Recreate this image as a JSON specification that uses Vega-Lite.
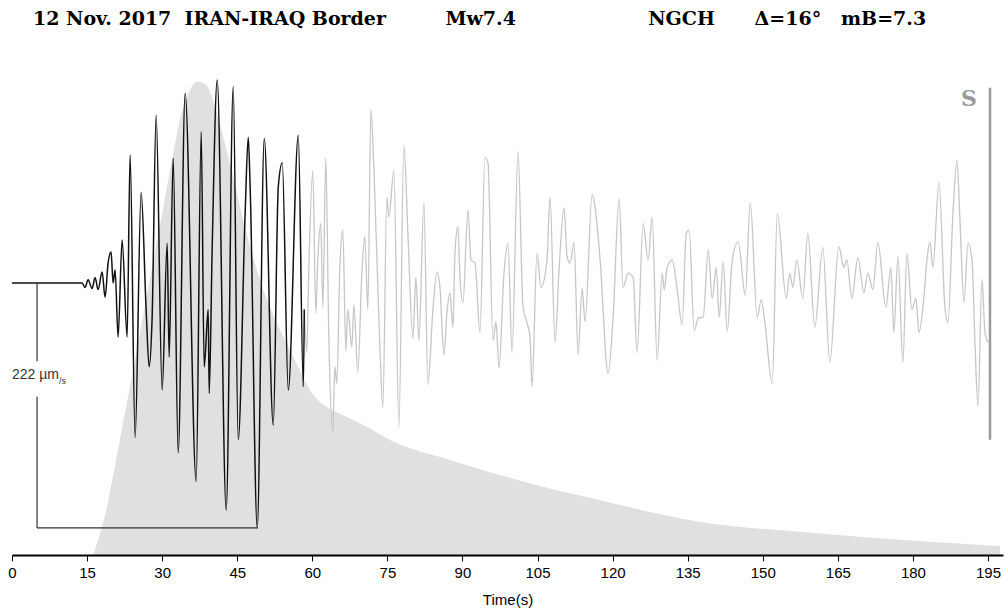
{
  "$schema": "https://vega.github.io/schema/vega-lite/v6.json",
  "width": 991,
  "height": 495,
  "autosize": {"type": "none"},
  "padding": {"left": 12, "top": 60, "right": 1, "bottom": 55},
  "background": "white",
  "config": {"view": {"stroke": null}},
  "title": {
    "text": "12 Nov. 2017\u00a0\u00a0IRAN-IRAQ Border\u00a0\u00a0\u00a0\u00a0\u00a0\u00a0\u00a0\u00a0\u00a0Mw7.4\u00a0\u00a0\u00a0\u00a0\u00a0\u00a0\u00a0\u00a0\u00a0\u00a0\u00a0\u00a0\u00a0\u00a0\u00a0\u00a0\u00a0\u00a0\u00a0\u00a0NGCH\u00a0\u00a0\u00a0\u00a0\u00a0\u00a0Δ=16°\u00a0\u00a0\u00a0mB=7.3",
    "anchor": "start",
    "frame": "group",
    "dx": 21,
    "offset": 16,
    "baseline": "alphabetic",
    "font": "DejaVu Serif",
    "fontSize": 19,
    "fontWeight": "bold",
    "color": "#000000"
  },
  "datasets": {
    "stf": [
      {"time": 16.2, "a": 0}, {"time": 17.2, "a": 0.032}, {"time": 18.6, "a": 0.085}, {"time": 20.6, "a": 0.19},
      {"time": 22.6, "a": 0.302}, {"time": 24.6, "a": 0.412}, {"time": 26.6, "a": 0.529}, {"time": 28.6, "a": 0.641},
      {"time": 30.6, "a": 0.757}, {"time": 32.0, "a": 0.837}, {"time": 33.6, "a": 0.922}, {"time": 35.2, "a": 0.974},
      {"time": 37.0, "a": 1.0}, {"time": 38.6, "a": 0.996}, {"time": 40.2, "a": 0.962}, {"time": 41.6, "a": 0.909},
      {"time": 43.6, "a": 0.825}, {"time": 46.6, "a": 0.691}, {"time": 50.0, "a": 0.567}, {"time": 53.1, "a": 0.486},
      {"time": 56.5, "a": 0.412}, {"time": 57.5, "a": 0.391}, {"time": 59.5, "a": 0.349}, {"time": 62.9, "a": 0.313},
      {"time": 66.1, "a": 0.296}, {"time": 70.9, "a": 0.271}, {"time": 75.5, "a": 0.243}, {"time": 87.5, "a": 0.201},
      {"time": 99.5, "a": 0.163}, {"time": 117.5, "a": 0.116}, {"time": 137.5, "a": 0.07}, {"time": 157.4, "a": 0.049},
      {"time": 177.4, "a": 0.032}, {"time": 197.4, "a": 0.019}
    ],
    "trace": [
      {"time": 0, "amp": 0, "part": "early"}, {"time": 14.0, "amp": 0, "part": "early"}, {"time": 14.6, "amp": -4, "part": "early"},
      {"time": 15.2, "amp": 3, "part": "early"}, {"time": 16.0, "amp": -5, "part": "early"}, {"time": 16.6, "amp": 5, "part": "early"},
      {"time": 17.2, "amp": -6, "part": "early"}, {"time": 18.0, "amp": 10, "part": "early"}, {"time": 18.6, "amp": -13, "part": "early"},
      {"time": 19.2, "amp": 18, "part": "early"}, {"time": 19.8, "amp": 28, "part": "early"}, {"time": 20.2, "amp": 0, "part": "early"},
      {"time": 20.6, "amp": 12, "part": "early"}, {"time": 21.2, "amp": -49, "part": "early"}, {"time": 22.0, "amp": 39, "part": "early"},
      {"time": 23.0, "amp": -49, "part": "early"}, {"time": 23.6, "amp": 116, "part": "early"}, {"time": 24.6, "amp": -140, "part": "early"},
      {"time": 25.8, "amp": 82, "part": "early"}, {"time": 26.8, "amp": -24, "part": "early"}, {"time": 27.4, "amp": -76, "part": "early"},
      {"time": 28.0, "amp": -31, "part": "early"}, {"time": 28.8, "amp": 152, "part": "early"}, {"time": 30.0, "amp": -97, "part": "early"},
      {"time": 31.0, "amp": 36, "part": "early"}, {"time": 31.4, "amp": -67, "part": "early"}, {"time": 32.2, "amp": 113, "part": "early"},
      {"time": 33.2, "amp": -154, "part": "early"}, {"time": 34.6, "amp": 172, "part": "early"}, {"time": 36.8, "amp": -180, "part": "early"},
      {"time": 37.8, "amp": 137, "part": "early"}, {"time": 38.4, "amp": -76, "part": "early"}, {"time": 39.2, "amp": -24, "part": "early"},
      {"time": 39.4, "amp": -100, "part": "early"}, {"time": 40.0, "amp": 33, "part": "early"}, {"time": 41.0, "amp": 184, "part": "early"},
      {"time": 42.8, "amp": -206, "part": "early"}, {"time": 44.2, "amp": 178, "part": "early"}, {"time": 45.2, "amp": -142, "part": "early"},
      {"time": 46.6, "amp": 66, "part": "early"}, {"time": 47.2, "amp": 132, "part": "early"}, {"time": 47.6, "amp": 84, "part": "early"},
      {"time": 49.0, "amp": -222, "part": "early"}, {"time": 50.4, "amp": 131, "part": "early"}, {"time": 52.2, "amp": -129, "part": "early"},
      {"time": 53.2, "amp": 87, "part": "early"}, {"time": 54.0, "amp": 109, "part": "early"}, {"time": 55.2, "amp": -97, "part": "early"},
      {"time": 57.2, "amp": 134, "part": "early"}, {"time": 58.2, "amp": -94, "part": "early"}, {"time": 58.4, "amp": -24, "part": "early"},
      {"time": 58.4, "amp": -24, "part": "late"}, {"time": 58.9, "amp": -63, "part": "late"}, {"time": 59.3, "amp": 12, "part": "late"},
      {"time": 60.1, "amp": 102, "part": "late"}, {"time": 60.7, "amp": -27, "part": "late"}, {"time": 61.1, "amp": 21, "part": "late"},
      {"time": 61.7, "amp": 54, "part": "late"}, {"time": 62.1, "amp": -22, "part": "late"}, {"time": 62.7, "amp": 113, "part": "late"},
      {"time": 63.3, "amp": -49, "part": "late"}, {"time": 64.1, "amp": -135, "part": "late"}, {"time": 64.5, "amp": -76, "part": "late"},
      {"time": 64.9, "amp": -91, "part": "late"}, {"time": 65.5, "amp": 14, "part": "late"}, {"time": 66.1, "amp": 48, "part": "late"},
      {"time": 66.7, "amp": -61, "part": "late"}, {"time": 67.1, "amp": -24, "part": "late"}, {"time": 67.9, "amp": -58, "part": "late"},
      {"time": 68.3, "amp": -20, "part": "late"}, {"time": 69.1, "amp": -81, "part": "late"}, {"time": 69.9, "amp": 9, "part": "late"},
      {"time": 70.5, "amp": 42, "part": "late"}, {"time": 71.1, "amp": -24, "part": "late"}, {"time": 71.7, "amp": 157, "part": "late"},
      {"time": 72.3, "amp": 105, "part": "late"}, {"time": 73.5, "amp": -58, "part": "late"}, {"time": 74.1, "amp": -113, "part": "late"},
      {"time": 74.9, "amp": 78, "part": "late"}, {"time": 75.3, "amp": 60, "part": "late"}, {"time": 76.3, "amp": 102, "part": "late"},
      {"time": 77.3, "amp": -131, "part": "late"}, {"time": 78.3, "amp": 125, "part": "late"}, {"time": 79.1, "amp": 45, "part": "late"},
      {"time": 80.1, "amp": -50, "part": "late"}, {"time": 80.7, "amp": 5, "part": "late"}, {"time": 81.3, "amp": -52, "part": "late"},
      {"time": 82.3, "amp": 73, "part": "late"}, {"time": 83.1, "amp": -92, "part": "late"}, {"time": 84.1, "amp": -24, "part": "late"},
      {"time": 84.9, "amp": 10, "part": "late"}, {"time": 85.5, "amp": -4, "part": "late"}, {"time": 86.3, "amp": -65, "part": "late"},
      {"time": 86.9, "amp": -27, "part": "late"}, {"time": 87.5, "amp": -9, "part": "late"}, {"time": 88.1, "amp": -40, "part": "late"},
      {"time": 88.5, "amp": 27, "part": "late"}, {"time": 89.1, "amp": 51, "part": "late"}, {"time": 89.5, "amp": 5, "part": "late"},
      {"time": 90.1, "amp": -18, "part": "late"}, {"time": 91.1, "amp": 66, "part": "late"}, {"time": 91.7, "amp": 21, "part": "late"},
      {"time": 92.5, "amp": 18, "part": "late"}, {"time": 93.5, "amp": -45, "part": "late"}, {"time": 94.5, "amp": 114, "part": "late"},
      {"time": 95.1, "amp": 109, "part": "late"}, {"time": 96.1, "amp": -52, "part": "late"}, {"time": 96.7, "amp": -35, "part": "late"},
      {"time": 97.3, "amp": -77, "part": "late"}, {"time": 98.3, "amp": 9, "part": "late"}, {"time": 99.1, "amp": 36, "part": "late"},
      {"time": 99.9, "amp": -63, "part": "late"}, {"time": 101.1, "amp": 119, "part": "late"}, {"time": 102.1, "amp": -22, "part": "late"},
      {"time": 102.9, "amp": -36, "part": "late"}, {"time": 103.5, "amp": -49, "part": "late"}, {"time": 103.9, "amp": -94, "part": "late"},
      {"time": 104.9, "amp": 27, "part": "late"}, {"time": 105.7, "amp": -4, "part": "late"}, {"time": 106.9, "amp": 21, "part": "late"},
      {"time": 107.5, "amp": 78, "part": "late"}, {"time": 108.5, "amp": -54, "part": "late"}, {"time": 109.3, "amp": 12, "part": "late"},
      {"time": 110.3, "amp": 68, "part": "late"}, {"time": 110.9, "amp": 24, "part": "late"}, {"time": 111.5, "amp": 18, "part": "late"},
      {"time": 112.3, "amp": 37, "part": "late"}, {"time": 113.1, "amp": -65, "part": "late"}, {"time": 113.9, "amp": -5, "part": "late"},
      {"time": 114.5, "amp": -35, "part": "late"}, {"time": 115.9, "amp": 80, "part": "late"}, {"time": 116.5, "amp": 69, "part": "late"},
      {"time": 117.5, "amp": 21, "part": "late"}, {"time": 119.1, "amp": -82, "part": "late"}, {"time": 120.1, "amp": -31, "part": "late"},
      {"time": 121.3, "amp": 77, "part": "late"}, {"time": 122.1, "amp": -4, "part": "late"}, {"time": 123.1, "amp": 9, "part": "late"},
      {"time": 124.1, "amp": 5, "part": "late"}, {"time": 124.9, "amp": -63, "part": "late"}, {"time": 126.1, "amp": 54, "part": "late"},
      {"time": 127.1, "amp": 21, "part": "late"}, {"time": 127.9, "amp": 60, "part": "late"}, {"time": 128.9, "amp": -70, "part": "late"},
      {"time": 129.9, "amp": 9, "part": "late"}, {"time": 130.3, "amp": -6, "part": "late"}, {"time": 130.9, "amp": 14, "part": "late"},
      {"time": 131.9, "amp": 21, "part": "late"}, {"time": 132.9, "amp": -6, "part": "late"}, {"time": 133.9, "amp": -38, "part": "late"},
      {"time": 134.7, "amp": 45, "part": "late"}, {"time": 135.3, "amp": 48, "part": "late"}, {"time": 136.3, "amp": -43, "part": "late"},
      {"time": 137.1, "amp": -32, "part": "late"}, {"time": 138.1, "amp": -31, "part": "late"}, {"time": 139.1, "amp": 30, "part": "late"},
      {"time": 139.9, "amp": -14, "part": "late"}, {"time": 140.7, "amp": 14, "part": "late"}, {"time": 141.3, "amp": -31, "part": "late"},
      {"time": 142.1, "amp": 19, "part": "late"}, {"time": 142.9, "amp": -44, "part": "late"}, {"time": 143.9, "amp": 21, "part": "late"},
      {"time": 145.1, "amp": 37, "part": "late"}, {"time": 146.5, "amp": -11, "part": "late"}, {"time": 147.5, "amp": 73, "part": "late"},
      {"time": 148.9, "amp": -31, "part": "late"}, {"time": 149.7, "amp": -15, "part": "late"}, {"time": 150.3, "amp": -31, "part": "late"},
      {"time": 151.9, "amp": -91, "part": "late"}, {"time": 152.9, "amp": 63, "part": "late"}, {"time": 154.7, "amp": -14, "part": "late"},
      {"time": 155.4, "amp": 9, "part": "late"}, {"time": 156.0, "amp": -4, "part": "late"}, {"time": 156.8, "amp": 21, "part": "late"},
      {"time": 158.0, "amp": -14, "part": "late"}, {"time": 159.0, "amp": 45, "part": "late"}, {"time": 160.4, "amp": -40, "part": "late"},
      {"time": 162.0, "amp": 32, "part": "late"}, {"time": 163.4, "amp": -72, "part": "late"}, {"time": 165.2, "amp": 33, "part": "late"},
      {"time": 166.2, "amp": 14, "part": "late"}, {"time": 166.8, "amp": 21, "part": "late"}, {"time": 167.8, "amp": -14, "part": "late"},
      {"time": 169.0, "amp": 23, "part": "late"}, {"time": 170.2, "amp": -9, "part": "late"}, {"time": 171.0, "amp": 9, "part": "late"},
      {"time": 172.0, "amp": -6, "part": "late"}, {"time": 173.0, "amp": 37, "part": "late"}, {"time": 174.6, "amp": -22, "part": "late"},
      {"time": 175.6, "amp": 14, "part": "late"}, {"time": 176.2, "amp": -45, "part": "late"}, {"time": 177.0, "amp": 24, "part": "late"},
      {"time": 178.0, "amp": -72, "part": "late"}, {"time": 178.8, "amp": 27, "part": "late"}, {"time": 179.8, "amp": -24, "part": "late"},
      {"time": 180.6, "amp": -14, "part": "late"}, {"time": 181.2, "amp": -45, "part": "late"}, {"time": 182.2, "amp": -13, "part": "late"},
      {"time": 182.8, "amp": 21, "part": "late"}, {"time": 183.4, "amp": 37, "part": "late"}, {"time": 184.0, "amp": 14, "part": "late"},
      {"time": 185.2, "amp": 91, "part": "late"}, {"time": 186.4, "amp": -22, "part": "late"}, {"time": 187.0, "amp": -36, "part": "late"},
      {"time": 188.0, "amp": 63, "part": "late"}, {"time": 188.8, "amp": 111, "part": "late"}, {"time": 189.4, "amp": 57, "part": "late"},
      {"time": 190.2, "amp": -18, "part": "late"}, {"time": 191.0, "amp": 36, "part": "late"}, {"time": 191.8, "amp": 21, "part": "late"},
      {"time": 192.4, "amp": -54, "part": "late"}, {"time": 193.0, "amp": -112, "part": "late"}, {"time": 193.8, "amp": 3, "part": "late"},
      {"time": 194.4, "amp": -45, "part": "late"}, {"time": 195.0, "amp": -54, "part": "late"}
    ],
    "scalebar": [
      {"time": 5, "time2": 5, "amp": 0, "amp2": -71},
      {"time": 5, "time2": 5, "amp": -103, "amp2": -222},
      {"time": 5, "time2": 49, "amp": -222, "amp2": -222}
    ],
    "phases": [
      {"phase": "S", "time": 195.4}
    ]
  },
  "resolve": {"scale": {"y": "independent"}},
  "layer": [
    {
      "data": {"name": "stf"},
      "mark": {"type": "area", "interpolate": "monotone", "color": "#e0e0e0"},
      "encoding": {
        "x": {
          "field": "time", "type": "quantitative",
          "scale": {"domain": [0, 198], "nice": false, "zero": false},
          "axis": {
            "values": [0, 15, 30, 45, 60, 75, 90, 105, 120, 135, 150, 165, 180, 195],
            "title": "Time(s)",
            "grid": false,
            "zindex": 2,
            "domainColor": "#000000", "domainWidth": 2,
            "tickColor": "#000000", "tickWidth": 1, "tickSize": 6,
            "labelFont": "Liberation Sans", "labelFontSize": 15, "labelColor": "#000000",
            "labelPadding": 4, "labelFlush": false, "labelOverlap": false,
            "titleFont": "Liberation Sans", "titleFontSize": 15, "titleFontWeight": "normal",
            "titleColor": "#000000", "titlePadding": 12
          }
        },
        "y": {
          "field": "a", "type": "quantitative",
          "scale": {"domain": [0, 1.0465], "nice": false, "zero": false},
          "axis": null
        }
      }
    },
    {
      "layer": [
        {
          "data": {"name": "trace"},
          "transform": [{"filter": "datum.part === 'late'"}],
          "mark": {"type": "line", "color": "#c6c6c6", "strokeWidth": 1.3, "interpolate": "monotone"},
          "encoding": {
            "x": {"field": "time", "type": "quantitative", "scale": {"domain": [0, 198], "nice": false, "zero": false}},
            "y": {"field": "amp", "type": "quantitative", "scale": {"domain": [-246.5, 202.1], "nice": false, "zero": false}, "axis": null}
          }
        },
        {
          "data": {"name": "trace"},
          "transform": [{"filter": "datum.part === 'early'"}],
          "mark": {"type": "line", "color": "#111111", "strokeWidth": 1.5, "interpolate": "monotone"},
          "encoding": {
            "x": {"field": "time", "type": "quantitative"},
            "y": {"field": "amp", "type": "quantitative", "axis": null}
          }
        },
        {
          "data": {"name": "scalebar"},
          "mark": {"type": "rule", "color": "#333333", "strokeWidth": 1.2},
          "encoding": {
            "x": {"field": "time", "type": "quantitative"},
            "x2": {"field": "time2"},
            "y": {"field": "amp", "type": "quantitative", "axis": null},
            "y2": {"field": "amp2"}
          }
        },
        {
          "data": {"values": [{"label": "222 µm"}]},
          "mark": {"type": "text", "align": "left", "baseline": "alphabetic", "dx": -25, "font": "Liberation Sans", "fontSize": 14, "color": "#333333"},
          "encoding": {
            "x": {"datum": 5, "type": "quantitative"},
            "y": {"datum": -87, "type": "quantitative"},
            "text": {"field": "label"}
          }
        },
        {
          "data": {"values": [{"label": "/s"}]},
          "mark": {"type": "text", "align": "left", "baseline": "alphabetic", "dx": 22, "dy": 5, "font": "Liberation Sans", "fontSize": 9, "color": "#333333"},
          "encoding": {
            "x": {"datum": 5, "type": "quantitative"},
            "y": {"datum": -87, "type": "quantitative"},
            "text": {"field": "label"}
          }
        },
        {
          "data": {"name": "phases"},
          "mark": {"type": "rule", "color": "#999999", "strokeWidth": 2.5},
          "encoding": {
            "x": {"field": "time", "type": "quantitative"},
            "y": {"datum": 177, "type": "quantitative"},
            "y2": {"datum": -142}
          }
        },
        {
          "data": {"name": "phases"},
          "mark": {"type": "text", "align": "right", "baseline": "alphabetic", "dx": -13, "font": "DejaVu Serif", "fontSize": 22, "fontWeight": "bold", "color": "#999999"},
          "encoding": {
            "x": {"field": "time", "type": "quantitative"},
            "y": {"datum": 160, "type": "quantitative"},
            "text": {"field": "phase"}
          }
        }
      ]
    }
  ]
}
